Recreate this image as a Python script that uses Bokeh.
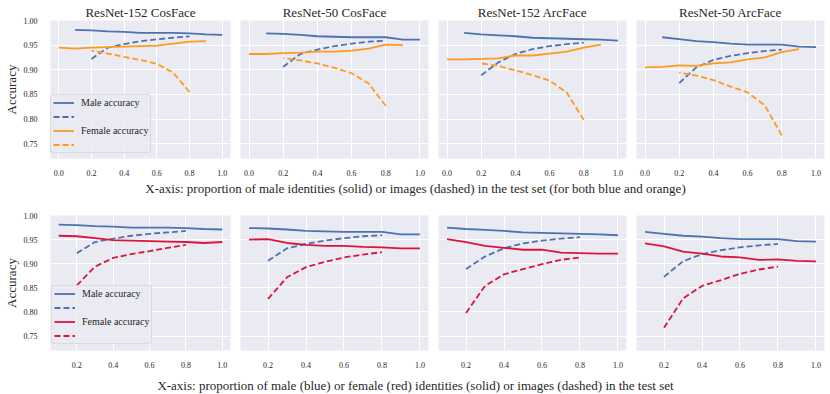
from bokeh.plotting import figure
from bokeh.layouts import column, row
from bokeh.models import (FixedTicker, PrintfTickFormatter, Legend, LegendItem,
                          Range1d, Label)
from bokeh.embed import file_html
from bokeh.resources import INLINE

# ---------------- data ----------------
models = ["ResNet-152 CosFace", "ResNet-50 CosFace", "ResNet-152 ArcFace", "ResNet-50 ArcFace"]

prop_solid = [0.1, 0.2, 0.3, 0.4, 0.5, 0.6, 0.7, 0.8, 0.9, 1.0]   # proportion of identities
prop_dashed = [0.2, 0.3, 0.4, 0.5, 0.6, 0.7, 0.8]                 # proportion of images

# male accuracy vs proportion of male identities / images
male_solid_r152_cos = [0.981, 0.980, 0.978, 0.977, 0.975, 0.975, 0.975, 0.974, 0.972, 0.971]
male_dash_r152_cos = [0.922, 0.945, 0.952, 0.958, 0.962, 0.965, 0.968]
male_solid_r50_cos = [0.974, 0.973, 0.971, 0.968, 0.967, 0.966, 0.966, 0.966, 0.961, 0.961]
male_dash_r50_cos = [0.906, 0.932, 0.941, 0.948, 0.953, 0.957, 0.959]
male_solid_r152_arc = [0.975, 0.972, 0.970, 0.968, 0.965, 0.964, 0.963, 0.962, 0.961, 0.959]
male_dash_r152_arc = [0.889, 0.915, 0.932, 0.942, 0.948, 0.952, 0.955]
male_solid_r50_arc = [0.966, 0.962, 0.958, 0.956, 0.953, 0.951, 0.951, 0.951, 0.947, 0.946]
male_dash_r50_arc = [0.873, 0.905, 0.920, 0.928, 0.934, 0.938, 0.941]

# female accuracy vs proportion of female identities / images
female_solid_r152_cos = [0.958, 0.957, 0.953, 0.949, 0.948, 0.947, 0.946, 0.945, 0.943, 0.945]
female_dash_r152_cos = [0.855, 0.894, 0.912, 0.920, 0.926, 0.933, 0.939]
female_solid_r50_cos = [0.950, 0.951, 0.943, 0.939, 0.937, 0.937, 0.935, 0.934, 0.932, 0.932]
female_dash_r50_cos = [0.827, 0.872, 0.893, 0.904, 0.913, 0.919, 0.924]
female_solid_r152_arc = [0.951, 0.945, 0.937, 0.933, 0.929, 0.929, 0.923, 0.922, 0.921, 0.921]
female_dash_r152_arc = [0.798, 0.854, 0.878, 0.889, 0.899, 0.908, 0.913]
female_solid_r50_arc = [0.942, 0.936, 0.925, 0.921, 0.915, 0.913, 0.908, 0.909, 0.906, 0.905]
female_dash_r50_arc = [0.767, 0.828, 0.854, 0.866, 0.879, 0.888, 0.894]

male_solid = [male_solid_r152_cos, male_solid_r50_cos, male_solid_r152_arc, male_solid_r50_arc]
male_dash = [male_dash_r152_cos, male_dash_r50_cos, male_dash_r152_arc, male_dash_r50_arc]
female_solid = [female_solid_r152_cos, female_solid_r50_cos, female_solid_r152_arc, female_solid_r50_arc]
female_dash = [female_dash_r152_cos, female_dash_r50_cos, female_dash_r152_arc, female_dash_r50_arc]

xticks_top = [0.0, 0.2, 0.4, 0.6, 0.8, 1.0]
xticks_bottom = [0.2, 0.4, 0.6, 0.8, 1.0]
yticks = [0.75, 0.80, 0.85, 0.90, 0.95, 1.00]

xlabel_top = "X-axis: proportion of male identities (solid) or images (dashed) in the test set (for both blue and orange)"
xlabel_bottom = "X-axis: proportion of male (blue) or female (red) identities (solid) or images (dashed) in the test set"

# ---------------- style ----------------
FONT = "Liberation Serif"
BG = "#EAEAF2"
TXT = "#262626"
BLUE = "#4C72B0"
ORANGE = "#FF9A1C"
RED = "#DC143C"
LW = 1.8
DASH = "6 3"
BIG = "13px"

FRAME_W = 188
FRAME_H = 139
LEFT = [42, 5, 5, 5]
RIGHT = [5, 5, 5, 6]


def make_panel(k, top_row):
    first = (k == 0)
    top_b = 20 if top_row else 19
    bot_b = 19 if top_row else 16
    p = figure(
        width=LEFT[k] + FRAME_W + RIGHT[k], height=top_b + FRAME_H + bot_b,
        min_border_left=LEFT[k], min_border_right=RIGHT[k],
        min_border_top=top_b, min_border_bottom=bot_b,
        x_range=Range1d(-0.05, 1.05) if top_row else Range1d(0.055, 1.045),
        y_range=Range1d(0.72, 1.0),
        toolbar_location=None, output_backend="svg",
        title=models[k] if top_row else None,
    )
    p.background_fill_color = BG
    p.border_fill_color = "white"
    p.outline_line_color = None
    if top_row:
        p.title.align = "center"
        p.title.text_font = FONT
        p.title.text_font_size = BIG
        p.title.text_font_style = "normal"
        p.title.text_color = TXT
        p.title.standoff = 1

    for ax in (p.xaxis[0], p.yaxis[0]):
        ax.axis_line_color = None
        ax.major_tick_line_color = None
        ax.minor_tick_line_color = None
        ax.major_label_text_font = FONT
        ax.major_label_text_font_size = "8px"
        ax.major_label_text_color = TXT
    p.xaxis.ticker = FixedTicker(ticks=xticks_top if top_row else xticks_bottom)
    p.xaxis.formatter = PrintfTickFormatter(format="%.1f")
    p.xaxis.major_label_standoff = 5
    p.yaxis.ticker = FixedTicker(ticks=yticks)
    p.yaxis.formatter = PrintfTickFormatter(format="%.2f")
    p.yaxis.major_label_standoff = 7
    if first:
        p.yaxis.axis_label = "Accuracy"
        p.yaxis.axis_label_text_font = FONT
        p.yaxis.axis_label_text_font_size = BIG
        p.yaxis.axis_label_text_font_style = "normal"
        p.yaxis.axis_label_text_color = TXT
        p.yaxis.axis_label_standoff = 2
    else:
        p.yaxis.visible = False

    p.grid.grid_line_color = "white"
    p.grid.grid_line_width = 1

    if top_row:
        fx_solid = [round(1 - v, 1) for v in prop_solid]
        fx_dash = [round(1 - v, 1) for v in prop_dashed]
        fcol = ORANGE
    else:
        fx_solid = prop_solid
        fx_dash = prop_dashed
        fcol = RED

    r1 = p.line(prop_solid, male_solid[k], line_color=BLUE, line_width=LW)
    r2 = p.line(prop_dashed, male_dash[k], line_color=BLUE, line_width=LW, line_dash=DASH)
    r3 = p.line(fx_solid, female_solid[k], line_color=fcol, line_width=LW)
    r4 = p.line(fx_dash, female_dash[k], line_color=fcol, line_width=LW, line_dash=DASH)

    if first:
        leg = Legend(items=[
            LegendItem(label="Male accuracy", renderers=[r1]),
            LegendItem(label=" ", renderers=[r2]),
            LegendItem(label="Female accuracy", renderers=[r3]),
            LegendItem(label=" ", renderers=[r4]),
        ], location=(0, 5) if top_row else (1, 6))
        leg.margin = 0
        leg.padding = 2
        leg.spacing = 3
        leg.glyph_width = 21
        leg.glyph_height = 11
        leg.label_height = 11
        leg.label_standoff = 7
        leg.label_text_font = FONT
        leg.label_text_font_size = "10px"
        leg.label_text_color = TXT
        leg.border_line_color = "#CCCCCC"
        leg.border_line_width = 1
        leg.background_fill_color = BG
        leg.background_fill_alpha = 0.8
        if "border_radius" in Legend.properties():
            leg.border_radius = 3
        p.add_layout(leg)
    return p


def make_label(text, h, y_base):
    f = figure(width=830, height=h, x_range=Range1d(0, 830), y_range=Range1d(0, h),
               x_axis_type=None, y_axis_type=None, toolbar_location=None,
               output_backend="svg", min_border=0)
    f.min_border_left = 0
    f.min_border_right = 0
    f.min_border_top = 0
    f.min_border_bottom = 0
    f.grid.visible = False
    f.outline_line_color = None
    f.background_fill_color = "white"
    f.border_fill_color = "white"
    f.add_layout(Label(x=415, y=y_base, text=text, text_align="center",
                       text_baseline="alphabetic", text_font=FONT,
                       text_font_size=BIG, text_color=TXT))
    return f


top = row(*[make_panel(k, True) for k in range(4)])
bottom = row(*[make_panel(k, False) for k in range(4)])
lab1 = make_label(xlabel_top, 18, 7.7)
lab2 = make_label(xlabel_bottom, 24, 9)

page = column(top, lab1, bottom, lab2)

open("out.html", "w").write(file_html(page, INLINE))
